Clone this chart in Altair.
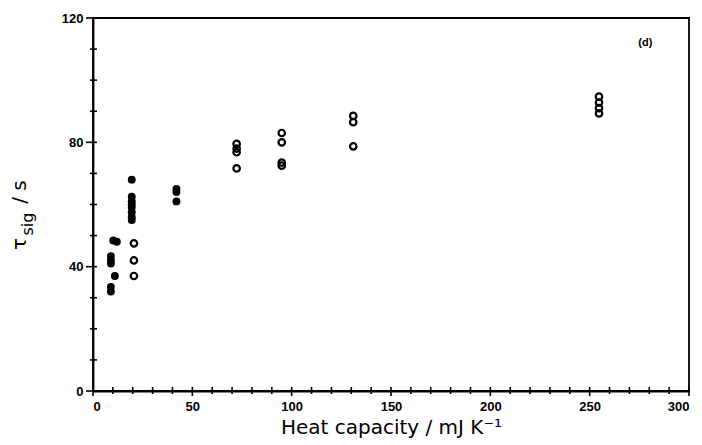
import altair as alt
import pandas as pd

# ---- data ----
filled_x = [9, 9, 9, 9, 9, 10.2, 12, 11, 19.5, 19.5, 19.5, 19.5, 19.5, 19.5, 19.5, 19.5, 42, 42, 42]
filled_y = [43.4, 42.1, 41, 33.5, 32, 48.4, 48, 37, 68, 62.5, 61, 60, 59, 57.5, 56, 55, 65, 64, 61]

open_x = [20.6, 20.6, 20.6, 72.3, 72.3, 72.3, 72.3, 95, 95, 95, 95, 131, 131, 131, 254.7, 254.7, 254.7, 254.7]
open_y = [47.5, 42, 37, 79.5, 78, 76.8, 71.6, 83, 80, 73.5, 72.5, 88.5, 86.5, 78.7, 94.7, 92.8, 91, 89.3]

x_major = [0, 50, 100, 150, 200, 250, 300]
x_minor = [v for v in range(10, 300, 10) if v % 50 != 0]
y_major = [0, 40, 80, 120]
y_minor = [v for v in range(10, 120, 10) if v % 40 != 0]

W, H = 596, 373
FONT = "Liberation Sans"

xs = alt.Scale(domain=[0, 300], nice=False)
ys = alt.Scale(domain=[0, 120], nice=False)

filled = pd.DataFrame({"x": filled_x, "y": filled_y})
opened = pd.DataFrame({"x": open_x, "y": open_y})

base_axes = alt.Chart(pd.DataFrame({"x": [0], "y": [0]})).mark_point(opacity=0).encode(
    x=alt.X("x:Q", scale=xs, axis=alt.Axis(values=x_major, ticks=False, domain=True, domainColor="black",
                                             domainWidth=1.8, labelFont=FONT, labelFontWeight="bold",
                                             labelFontSize=13, labelColor="black", labelPadding=9,
                                             grid=False, title="Heat capacity / mJ K\u207b\u00b9",
                                             titleFont="DejaVu Sans", titleFontWeight="normal",
                                             titleFontSize=20, titleColor="black", titlePadding=4)),
    y=alt.Y("y:Q", scale=ys, axis=alt.Axis(values=y_major, ticks=False, domain=True, domainColor="black",
                                             domainWidth=1.8, labelFont=FONT, labelFontWeight="bold",
                                             labelFontSize=13, labelColor="black", labelPadding=10,
                                             grid=False, title=None)),
)

pts_filled = alt.Chart(filled).mark_point(filled=True, shape="circle", size=62, color="black", opacity=1).encode(
    x=alt.X("x:Q", scale=xs), y=alt.Y("y:Q", scale=ys))
pts_open = alt.Chart(opened).mark_point(filled=False, shape="circle", size=42, color="black",
                                        strokeWidth=2.2, opacity=1).encode(
    x=alt.X("x:Q", scale=xs), y=alt.Y("y:Q", scale=ys))

# tick marks crossing the axes
ymin_t = alt.Chart(pd.DataFrame({"y": y_minor})).mark_rule(color="black", strokeWidth=1.6).encode(
    y=alt.Y("y:Q", scale=ys), x=alt.value(-3), x2=alt.value(4))
ymaj_t = alt.Chart(pd.DataFrame({"y": y_major})).mark_rule(color="black", strokeWidth=1.6).encode(
    y=alt.Y("y:Q", scale=ys), x=alt.value(-7), x2=alt.value(4))
xmin_t = alt.Chart(pd.DataFrame({"x": x_minor})).mark_rule(color="black", strokeWidth=1.6).encode(
    x=alt.X("x:Q", scale=xs), y=alt.value(H - 4), y2=alt.value(H + 3))
xmaj_t = alt.Chart(pd.DataFrame({"x": x_major})).mark_rule(color="black", strokeWidth=1.6).encode(
    x=alt.X("x:Q", scale=xs), y=alt.value(H - 4), y2=alt.value(H + 5))

# panel label
lab = alt.Chart(pd.DataFrame({"x": [278], "y": [112], "t": ["(d)"]})).mark_text(
    font=FONT, fontWeight="bold", fontSize=11, color="black").encode(
    x=alt.X("x:Q", scale=xs), y=alt.Y("y:Q", scale=ys), text="t:N")

# y title with subscript
yt1 = alt.Chart(pd.DataFrame({"t": ["\u03c4"]})).mark_text(
    font="DejaVu Sans", fontSize=20, angle=270, color="black").encode(
    x=alt.value(-73), y=alt.value(226), text="t:N")
yt2 = alt.Chart(pd.DataFrame({"t": ["sig"]})).mark_text(
    font="DejaVu Sans", fontSize=16, angle=270, color="black").encode(
    x=alt.value(-65), y=alt.value(206), text="t:N")
yt3 = alt.Chart(pd.DataFrame({"t": ["/ s"]})).mark_text(
    font="DejaVu Sans", fontSize=20, angle=270, color="black").encode(
    x=alt.value(-73), y=alt.value(174), text="t:N")

chart = alt.layer(base_axes, ymin_t, ymaj_t, xmin_t, xmaj_t, pts_filled, pts_open, lab, yt1, yt2, yt3).properties(
    width=W, height=H,
    autosize=alt.AutoSizeParams(type="none"),
    padding={"left": 93, "top": 18, "right": 13, "bottom": 54},
    background="white",
).configure_view(stroke="black", strokeWidth=1.8)

chart.save("out.html", embed_options={"renderer": "svg", "actions": False})
